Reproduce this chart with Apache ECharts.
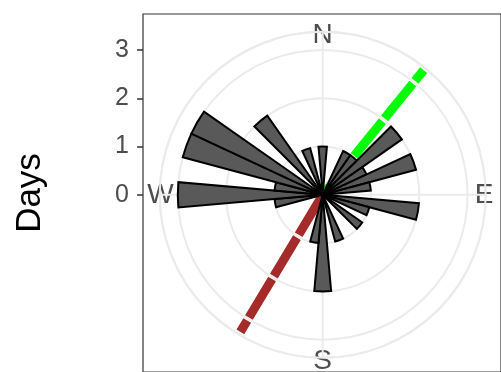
<!DOCTYPE html>
<html>
<head>
<meta charset="utf-8">
<script src="https://cdn.jsdelivr.net/npm/echarts@6/dist/echarts.min.js"></script>
<style>
  html, body { margin: 0; padding: 0; background: #ffffff; }
  #chart { width: 501px; height: 372px; }
</style>
</head>
<body>
<div id="chart"></div>
<script>
// ---- data ----
var directionBins = ['0','10','20','30','40','50','60','70','80','90','100','110','120','130','140','150','160','170',
                     '180','190','200','210','220','230','240','250','260','270','280','290','300','310','320','330','340','350'];
var barBearings = [0, 30, 40, 50, 60, 70, 80, 100, 110, 130, 160, 180, 190, 260, 270, 280, 290, 300, 320, 340];
var barDays     = [1, 1,  1,  2,  1,  2,  1,  2,   1,   1,   1,   2,   1,   1,   3,   1,   3,   3,   2,   1];
var radialTicks = [0, 1, 2, 3];
var compassLabels = ['N', 'E', 'S', 'W'];
var greenBearing = 39, greenLength = 3.32;
var redBearing = 211, redLength = 3.31;

// ---- build ----
var binValues = directionBins.map(function (b) {
  var i = barBearings.indexOf(Number(b));
  return i >= 0 ? barDays[i] : '-';
});

function rayPieces(bearing, length) {
  var gap = 0.035, out = [];
  for (var k = 0; k < Math.ceil(length); k++) {
    var a = k === 0 ? 0 : k + gap;
    var b = Math.min(k + 1, length);
    if (b < length) b -= gap;
    out.push([a, bearing], [b, bearing], '-');
  }
  return out;
}

var CX = 322.7, CY = 194.8, R = 163, RMAX = 3.375;
var FONT = 'Liberation Sans, Arial, Helvetica, sans-serif';
var labelBase = { fontSize: 28, color: '#4D4D4D', fontFamily: FONT };

var chart = echarts.init(document.getElementById('chart'), null, { renderer: 'canvas' });
chart.setOption({
  backgroundColor: '#ffffff',
  animation: false,
  textStyle: { fontFamily: FONT },
  grid: [
    { left: 143, top: 14, width: 364, height: 364, show: true, borderColor: '#333333', borderWidth: 1.2, backgroundColor: 'transparent' },
    { left: 143, top: CY - 3 * 48.2, width: 10, height: 3 * 48.2 }
  ],
  xAxis: [
    { gridIndex: 0, type: 'value', show: false },
    { gridIndex: 1, type: 'value', show: false }
  ],
  yAxis: [
    { gridIndex: 0, type: 'value', min: 0, max: 1, name: 'Days', nameLocation: 'middle', nameGap: 95,
      nameTextStyle: { fontSize: 35, color: '#000000', fontFamily: FONT },
      axisLine: { show: false }, axisTick: { show: false }, axisLabel: { show: false }, splitLine: { show: false } },
    { gridIndex: 1, type: 'value', min: radialTicks[0], max: radialTicks[radialTicks.length - 1], interval: 1,
      axisLine: { show: false },
      axisTick: { show: true, length: 6, lineStyle: { color: '#333333', width: 1.5 } },
      axisLabel: { fontSize: 25, color: '#4D4D4D', margin: 14, fontFamily: FONT },
      splitLine: { show: false } }
  ],
  polar: [
    { center: [CX, CY], radius: R },
    { center: [CX, CY], radius: R }
  ],
  angleAxis: [
    { polarIndex: 0, type: 'value', min: 0, max: 360, interval: 90, startAngle: 90, clockwise: true,
      axisLine: { show: true, lineStyle: { color: '#EBEBEB', width: 2 } },
      axisTick: { show: false },
      splitLine: { show: true, lineStyle: { color: '#EBEBEB', width: 2 } },
      axisLabel: { show: true, margin: -17, fontSize: 28, color: '#4D4D4D', fontFamily: FONT,
        rich: {
          n: labelBase,
          e: Object.assign({ padding: [0, 0, 0, 6] }, labelBase),
          s: Object.assign({ padding: [6, 0, 0, 0] }, labelBase),
          w: Object.assign({ padding: [0, 3, 0, 0] }, labelBase)
        },
        formatter: function (v) {
          var i = Math.round(v / 90);
          if (i >= 4) return '';
          return '{' + compassLabels[i].toLowerCase() + '|' + compassLabels[i] + '}';
        } } },
    { polarIndex: 1, type: 'category', data: directionBins, startAngle: 95, clockwise: true,
      axisLine: { show: false }, axisTick: { show: false }, axisLabel: { show: false }, splitLine: { show: false } }
  ],
  radiusAxis: [
    { polarIndex: 0, type: 'value', min: 0, max: RMAX, interval: 1,
      axisLine: { show: false }, axisTick: { show: false }, axisLabel: { show: false },
      splitLine: { show: true, lineStyle: { color: '#EBEBEB', width: 2 } } },
    { polarIndex: 1, type: 'value', min: 0, max: RMAX,
      axisLine: { show: false }, axisTick: { show: false }, axisLabel: { show: false }, splitLine: { show: false } }
  ],
  series: [
    { type: 'line', coordinateSystem: 'polar', polarIndex: 0, data: rayPieces(greenBearing, greenLength),
      showSymbol: false, symbol: 'none', connectNulls: false, z: 2,
      lineStyle: { color: '#00FF00', width: 9, cap: 'butt' } },
    { type: 'line', coordinateSystem: 'polar', polarIndex: 0, data: rayPieces(redBearing, redLength),
      showSymbol: false, symbol: 'none', connectNulls: false, z: 2,
      lineStyle: { color: '#A52A2A', width: 9, cap: 'butt' } },
    { type: 'bar', coordinateSystem: 'polar', polarIndex: 1, data: binValues, barWidth: '100%', z: 3,
      itemStyle: { color: '#595959', borderColor: '#000000', borderWidth: 2 } }
  ]
});
</script>
</body>
</html>
